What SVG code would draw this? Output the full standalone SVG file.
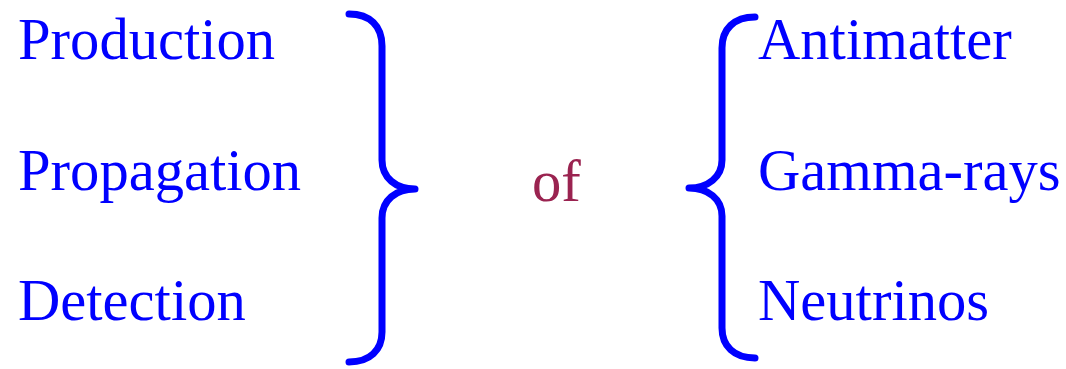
<svg xmlns="http://www.w3.org/2000/svg" width="1066" height="369" viewBox="0 0 1066 369">
<style>
.t{font-family:"Liberation Serif","Times New Roman",serif;font-size:58.6px;fill:#0000ff}
.of{font-family:"Liberation Serif","Times New Roman",serif;font-size:58.6px;fill:#9a2350}
.br{fill:none;stroke:#0000ff;stroke-width:7;stroke-linecap:round;stroke-linejoin:round}
</style>
<rect width="1066" height="369" fill="#fff"/>
<g id="left-labels">
<text class="t" x="18" y="59">Production</text>
<text class="t" x="18" y="190">Propagation</text>
<text class="t" x="18" y="320">Detection</text>
</g>
<g id="brace-right">
<path class="br" d="M349,14 C370,14 382,26 382,46 L382,160 C382,178 396,189 415,189 C396,189 382,200 382,218 L382,332 C382,350 370,362 349,362"/>
</g>
<g id="of">
<text class="of" x="532" y="201">of</text>
</g>
<g id="brace-left">
<path class="br" d="M755,17 C734,17 722,29 722,48 L722,160 C722,177 708,188 689,188 C708,188 722,199 722,216 L722,328 C722,346 734,358 755,358"/>
</g>
<g id="right-labels">
<text class="t" x="758" y="59">Antimatter</text>
<text class="t" x="758" y="190">Gamma-rays</text>
<text class="t" x="758" y="320">Neutrinos</text>
</g>
</svg>
